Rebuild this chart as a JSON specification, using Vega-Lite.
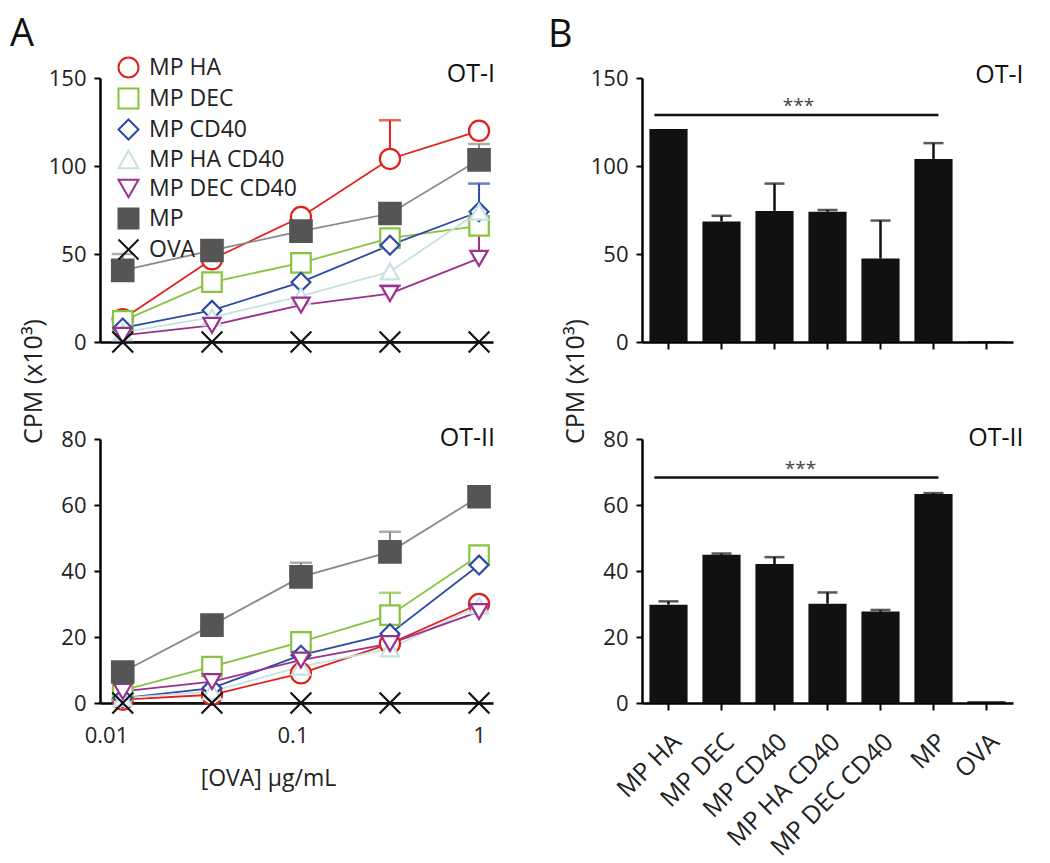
{
  "$schema": "https://vega.github.io/schema/vega-lite/v6.json",
  "padding": {"left": 10, "top": 16, "right": 5, "bottom": 5},
  "background": "white",
  "config": {
    "font": "Open Sans",
    "view": {"stroke": null},
    "axis": {"grid": false, "domainColor": "#000", "domainWidth": 2.5, "tickColor": "#000", "tickWidth": 2, "tickSize": 6, "labelFontSize": 22, "labelColor": "#222", "labelPadding": 8, "titleFontSize": 25, "titleFontWeight": "normal", "titleColor": "#222"},
    "legend": {"labelFontSize": 23, "labelColor": "#222", "symbolStrokeWidth": 2, "symbolSize": 400, "rowPadding": 2, "labelOffset": 9, "padding": 0},
    "title": {"fontSize": 38, "fontWeight": "normal", "color": "#111", "anchor": "start", "frame": "group", "baseline": "alphabetic"}
  },
  "datasets": {
    "lines": [
      {"panel": "OT-I", "series": "MP HA", "conc": 0.0123, "cpm": 13},
      {"panel": "OT-I", "series": "MP HA", "conc": 0.037, "cpm": 47},
      {"panel": "OT-I", "series": "MP HA", "conc": 0.111, "cpm": 71},
      {"panel": "OT-I", "series": "MP HA", "conc": 0.333, "cpm": 104, "upper": 126},
      {"panel": "OT-I", "series": "MP HA", "conc": 1, "cpm": 120},
      {"panel": "OT-I", "series": "MP DEC", "conc": 0.0123, "cpm": 12},
      {"panel": "OT-I", "series": "MP DEC", "conc": 0.037, "cpm": 34},
      {"panel": "OT-I", "series": "MP DEC", "conc": 0.111, "cpm": 45},
      {"panel": "OT-I", "series": "MP DEC", "conc": 0.333, "cpm": 59},
      {"panel": "OT-I", "series": "MP DEC", "conc": 1, "cpm": 66},
      {"panel": "OT-I", "series": "MP CD40", "conc": 0.0123, "cpm": 8},
      {"panel": "OT-I", "series": "MP CD40", "conc": 0.037, "cpm": 18},
      {"panel": "OT-I", "series": "MP CD40", "conc": 0.111, "cpm": 34},
      {"panel": "OT-I", "series": "MP CD40", "conc": 0.333, "cpm": 55},
      {"panel": "OT-I", "series": "MP CD40", "conc": 1, "cpm": 74, "upper": 90},
      {"panel": "OT-I", "series": "MP HA CD40", "conc": 0.0123, "cpm": 5.5},
      {"panel": "OT-I", "series": "MP HA CD40", "conc": 0.037, "cpm": 14},
      {"panel": "OT-I", "series": "MP HA CD40", "conc": 0.111, "cpm": 26},
      {"panel": "OT-I", "series": "MP HA CD40", "conc": 0.333, "cpm": 40},
      {"panel": "OT-I", "series": "MP HA CD40", "conc": 1, "cpm": 74},
      {"panel": "OT-I", "series": "MP DEC CD40", "conc": 0.0123, "cpm": 3.8},
      {"panel": "OT-I", "series": "MP DEC CD40", "conc": 0.037, "cpm": 9.5},
      {"panel": "OT-I", "series": "MP DEC CD40", "conc": 0.111, "cpm": 21},
      {"panel": "OT-I", "series": "MP DEC CD40", "conc": 0.333, "cpm": 27.5, "upper": 32},
      {"panel": "OT-I", "series": "MP DEC CD40", "conc": 1, "cpm": 47.5, "upper": 69},
      {"panel": "OT-I", "series": "MP", "conc": 0.0123, "cpm": 40.7, "upper": 50},
      {"panel": "OT-I", "series": "MP", "conc": 0.037, "cpm": 52},
      {"panel": "OT-I", "series": "MP", "conc": 0.111, "cpm": 63},
      {"panel": "OT-I", "series": "MP", "conc": 0.333, "cpm": 73},
      {"panel": "OT-I", "series": "MP", "conc": 1, "cpm": 103.5, "upper": 112.5},
      {"panel": "OT-I", "series": "OVA", "conc": 0.0123, "cpm": 0},
      {"panel": "OT-I", "series": "OVA", "conc": 0.037, "cpm": 0},
      {"panel": "OT-I", "series": "OVA", "conc": 0.111, "cpm": 0},
      {"panel": "OT-I", "series": "OVA", "conc": 0.333, "cpm": 0},
      {"panel": "OT-I", "series": "OVA", "conc": 1, "cpm": 0},
      {"panel": "OT-II", "series": "MP HA", "conc": 0.0123, "cpm": 1},
      {"panel": "OT-II", "series": "MP HA", "conc": 0.037, "cpm": 2.5},
      {"panel": "OT-II", "series": "MP HA", "conc": 0.111, "cpm": 9},
      {"panel": "OT-II", "series": "MP HA", "conc": 0.333, "cpm": 18},
      {"panel": "OT-II", "series": "MP HA", "conc": 1, "cpm": 30},
      {"panel": "OT-II", "series": "MP DEC", "conc": 0.0123, "cpm": 3.8},
      {"panel": "OT-II", "series": "MP DEC", "conc": 0.037, "cpm": 11},
      {"panel": "OT-II", "series": "MP DEC", "conc": 0.111, "cpm": 18.5},
      {"panel": "OT-II", "series": "MP DEC", "conc": 0.333, "cpm": 26.6, "upper": 33.4},
      {"panel": "OT-II", "series": "MP DEC", "conc": 1, "cpm": 44.8},
      {"panel": "OT-II", "series": "MP CD40", "conc": 0.0123, "cpm": 1.5},
      {"panel": "OT-II", "series": "MP CD40", "conc": 0.037, "cpm": 4.5},
      {"panel": "OT-II", "series": "MP CD40", "conc": 0.111, "cpm": 14.5},
      {"panel": "OT-II", "series": "MP CD40", "conc": 0.333, "cpm": 21},
      {"panel": "OT-II", "series": "MP CD40", "conc": 1, "cpm": 41.8},
      {"panel": "OT-II", "series": "MP HA CD40", "conc": 0.0123, "cpm": 1.5},
      {"panel": "OT-II", "series": "MP HA CD40", "conc": 0.037, "cpm": 3.5},
      {"panel": "OT-II", "series": "MP HA CD40", "conc": 0.111, "cpm": 11},
      {"panel": "OT-II", "series": "MP HA CD40", "conc": 0.333, "cpm": 16.5},
      {"panel": "OT-II", "series": "MP HA CD40", "conc": 1, "cpm": 29.5},
      {"panel": "OT-II", "series": "MP DEC CD40", "conc": 0.0123, "cpm": 3.5},
      {"panel": "OT-II", "series": "MP DEC CD40", "conc": 0.037, "cpm": 6.5},
      {"panel": "OT-II", "series": "MP DEC CD40", "conc": 0.111, "cpm": 13},
      {"panel": "OT-II", "series": "MP DEC CD40", "conc": 0.333, "cpm": 18},
      {"panel": "OT-II", "series": "MP DEC CD40", "conc": 1, "cpm": 27.7},
      {"panel": "OT-II", "series": "MP", "conc": 0.0123, "cpm": 9.4},
      {"panel": "OT-II", "series": "MP", "conc": 0.037, "cpm": 23.6},
      {"panel": "OT-II", "series": "MP", "conc": 0.111, "cpm": 38.2, "upper": 42.5},
      {"panel": "OT-II", "series": "MP", "conc": 0.333, "cpm": 45.8, "upper": 51.9},
      {"panel": "OT-II", "series": "MP", "conc": 1, "cpm": 62.5},
      {"panel": "OT-II", "series": "OVA", "conc": 0.0123, "cpm": 0},
      {"panel": "OT-II", "series": "OVA", "conc": 0.037, "cpm": 0},
      {"panel": "OT-II", "series": "OVA", "conc": 0.111, "cpm": 0},
      {"panel": "OT-II", "series": "OVA", "conc": 0.333, "cpm": 0},
      {"panel": "OT-II", "series": "OVA", "conc": 1, "cpm": 0}
    ],
    "bars": [
      {"panel": "OT-I", "group": "MP HA", "cpm": 121},
      {"panel": "OT-I", "group": "MP DEC", "cpm": 68.5, "upper": 71.7},
      {"panel": "OT-I", "group": "MP CD40", "cpm": 74.5, "upper": 90},
      {"panel": "OT-I", "group": "MP HA CD40", "cpm": 74, "upper": 75},
      {"panel": "OT-I", "group": "MP DEC CD40", "cpm": 47.4, "upper": 69},
      {"panel": "OT-I", "group": "MP", "cpm": 104, "upper": 113},
      {"panel": "OT-I", "group": "OVA", "cpm": 0.4},
      {"panel": "OT-II", "group": "MP HA", "cpm": 29.8, "upper": 30.8},
      {"panel": "OT-II", "group": "MP DEC", "cpm": 44.9, "upper": 45.3},
      {"panel": "OT-II", "group": "MP CD40", "cpm": 42.1, "upper": 44.2},
      {"panel": "OT-II", "group": "MP HA CD40", "cpm": 30.1, "upper": 33.5},
      {"panel": "OT-II", "group": "MP DEC CD40", "cpm": 27.7, "upper": 28.2},
      {"panel": "OT-II", "group": "MP", "cpm": 63.3, "upper": 63.6},
      {"panel": "OT-II", "group": "OVA", "cpm": 0.5}
    ],
    "sig": [
      {"panel": "OT-I", "from": "MP HA", "to": "MP", "y": 129, "label": "***"},
      {"panel": "OT-II", "from": "MP HA", "to": "MP", "y": 68.3, "label": "***"}
    ],
    "tags": [
      {"panel": "OT-I", "label": "OT-I"},
      {"panel": "OT-II", "label": "OT-II"}
    ]
  },
  "columns": 2,
  "bounds": "flush",
  "spacing": {"row": 97, "column": 149},
  "concat": [
    {
      "width": 393, "height": 264,
      "title": {"text": "A", "dx": -90, "offset": 8},
      "layer": [
        {
          "data": {"name": "lines"},
          "transform": [{"filter": "datum.panel === 'OT-I'"}],
          "mark": {"type": "line", "strokeWidth": 1.8},
          "encoding": {
            "x": {"field": "conc", "type": "quantitative", "scale": {"type": "log", "domain": [0.00929, 1.188], "nice": false}, "axis": {"title": null, "labels": false, "ticks": false}},
            "y": {"field": "cpm", "type": "quantitative", "scale": {"domain": [0, 150], "nice": false}, "axis": {"values": [0, 50, 100, 150], "title": "CPM (x10³)", "titleX": -59, "titleY": 303, "titleAngle": 270, "titleBaseline": "alphabetic", "titleAlign": "center"}},
            "color": {"field": "series", "type": "nominal", "scale": {"domain": ["OVA", "MP", "MP DEC CD40", "MP HA CD40", "MP CD40", "MP DEC", "MP HA"], "range": ["#111111", "#8a8a8a", "#9b308f", "#c6e2e3", "#2c4aa6", "#86c440", "#e3211c"]}, "legend": null}
          }
        },
        {
          "data": {"name": "lines"},
          "transform": [{"filter": "datum.panel === 'OT-I' && isValid(datum.upper)"}],
          "mark": {"type": "rule", "strokeWidth": 2},
          "encoding": {
            "x": {"field": "conc", "type": "quantitative", "scale": {"type": "log", "domain": [0.00929, 1.188], "nice": false}},
            "y": {"field": "cpm", "type": "quantitative", "scale": {"domain": [0, 150], "nice": false}},
            "y2": {"field": "upper"},
            "color": {"field": "series", "type": "nominal", "scale": {"domain": ["OVA", "MP", "MP DEC CD40", "MP HA CD40", "MP CD40", "MP DEC", "MP HA"], "range": ["#111111", "#8a8a8a", "#9b308f", "#c6e2e3", "#2c4aa6", "#86c440", "#e3211c"]}, "legend": null}
          }
        },
        {
          "data": {"name": "lines"},
          "transform": [{"filter": "datum.panel === 'OT-I' && isValid(datum.upper)"}],
          "mark": {"type": "tick", "orient": "horizontal", "size": 22, "thickness": 2.5},
          "encoding": {
            "x": {"field": "conc", "type": "quantitative", "scale": {"type": "log", "domain": [0.00929, 1.188], "nice": false}},
            "y": {"field": "upper", "type": "quantitative", "scale": {"domain": [0, 150], "nice": false}},
            "color": {"field": "series", "type": "nominal", "scale": {"domain": ["OVA", "MP", "MP DEC CD40", "MP HA CD40", "MP CD40", "MP DEC", "MP HA"], "range": ["#111111", "#8a8a8a", "#9b308f", "#c6e2e3", "#2c4aa6", "#86c440", "#e3211c"]}, "legend": null}
          }
        },
        {
          "data": {"name": "lines"},
          "transform": [{"filter": "datum.panel === 'OT-I'"}],
          "mark": {"type": "point", "strokeWidth": 2.2, "opacity": 1},
          "encoding": {
            "x": {"field": "conc", "type": "quantitative", "scale": {"type": "log", "domain": [0.00929, 1.188], "nice": false}},
            "y": {"field": "cpm", "type": "quantitative", "scale": {"domain": [0, 150], "nice": false}},
            "shape": {"field": "series", "type": "nominal", "scale": {"domain": ["MP HA", "MP DEC", "MP CD40", "MP HA CD40", "MP DEC CD40", "MP", "OVA"], "range": ["circle", "square", "diamond", "triangle-up", "triangle-down", "square", "M-1,-1L1,1M1,-1L-1,1"]}, "legend": {"orient": "none", "legendX": 17, "legendY": -22, "title": null}},
            "stroke": {"field": "series", "type": "nominal", "scale": {"domain": ["MP HA", "MP DEC", "MP CD40", "MP HA CD40", "MP DEC CD40", "MP", "OVA"], "range": ["#e3211c", "#86c440", "#2c4aa6", "#c6e2e3", "#9b308f", "#555555", "#111111"]}, "legend": {"orient": "none", "legendX": 17, "legendY": -22, "title": null}},
            "fill": {"field": "series", "type": "nominal", "scale": {"domain": ["MP HA", "MP DEC", "MP CD40", "MP HA CD40", "MP DEC CD40", "MP", "OVA"], "range": ["#ffffff", "#ffffff", "#ffffff", "#ffffff", "#ffffff", "#555555", "transparent"]}, "legend": {"orient": "none", "legendX": 17, "legendY": -22, "title": null}},
            "size": {"field": "series", "type": "nominal", "scale": {"domain": ["MP", "OVA", "MP HA", "MP DEC", "MP CD40", "MP HA CD40", "MP DEC CD40"], "range": [460, 300, 480, 460, 700, 520, 520]}, "legend": null}
          }
        },
        {
          "data": {"name": "tags"},
          "transform": [{"filter": "datum.panel === 'OT-I'"}],
          "mark": {"type": "text", "align": "right", "baseline": "middle", "fontSize": 25, "dx": 16, "dy": -4, "color": "#111"},
          "encoding": {
            "x": {"datum": 1, "type": "quantitative", "scale": {"type": "log", "domain": [0.00929, 1.188], "nice": false}},
            "y": {"datum": 150, "type": "quantitative", "scale": {"domain": [0, 150], "nice": false}},
            "text": {"field": "label"}
          }
        }
      ]
    },
    {
      "width": 371, "height": 264,
      "title": {"text": "B", "dx": -94, "offset": 8},
      "layer": [
        {
          "data": {"name": "bars"},
          "transform": [{"filter": "datum.panel === 'OT-I'"}],
          "mark": {"type": "bar", "color": "#111"},
          "encoding": {
            "x": {"field": "group", "type": "nominal", "scale": {"domain": ["MP HA", "MP DEC", "MP CD40", "MP HA CD40", "MP DEC CD40", "MP", "OVA"], "paddingInner": 0.28, "paddingOuter": 0.14}, "axis": {"title": null, "labels": false, "tickSize": 7}},
            "y": {"field": "cpm", "type": "quantitative", "scale": {"domain": [0, 150], "nice": false}, "axis": {"values": [0, 50, 100, 150], "title": "CPM (x10³)", "titleX": -59, "titleY": 303, "titleAngle": 270, "titleBaseline": "alphabetic", "titleAlign": "center"}}
          }
        },
        {
          "data": {"name": "bars"},
          "transform": [{"filter": "datum.panel === 'OT-I' && isValid(datum.upper)"}],
          "mark": {"type": "rule", "strokeWidth": 2.5, "color": "#111"},
          "encoding": {
            "x": {"field": "group", "type": "nominal", "scale": {"domain": ["MP HA", "MP DEC", "MP CD40", "MP HA CD40", "MP DEC CD40", "MP", "OVA"], "paddingInner": 0.28, "paddingOuter": 0.14}},
            "y": {"field": "cpm", "type": "quantitative", "scale": {"domain": [0, 150], "nice": false}},
            "y2": {"field": "upper"}
          }
        },
        {
          "data": {"name": "bars"},
          "transform": [{"filter": "datum.panel === 'OT-I' && isValid(datum.upper)"}],
          "mark": {"type": "tick", "orient": "horizontal", "size": 20, "thickness": 2.5, "color": "#111"},
          "encoding": {
            "x": {"field": "group", "type": "nominal", "scale": {"domain": ["MP HA", "MP DEC", "MP CD40", "MP HA CD40", "MP DEC CD40", "MP", "OVA"], "paddingInner": 0.28, "paddingOuter": 0.14}},
            "y": {"field": "upper", "type": "quantitative", "scale": {"domain": [0, 150], "nice": false}}
          }
        },
        {
          "data": {"name": "sig"},
          "transform": [{"filter": "datum.panel === 'OT-I'"}],
          "mark": {"type": "rule", "strokeWidth": 2.5, "color": "#111"},
          "encoding": {
            "x": {"field": "from", "type": "nominal", "bandPosition": 0.13, "scale": {"domain": ["MP HA", "MP DEC", "MP CD40", "MP HA CD40", "MP DEC CD40", "MP", "OVA"], "paddingInner": 0.28, "paddingOuter": 0.14}},
            "x2": {"field": "to", "bandPosition": 0.63},
            "y": {"field": "y", "type": "quantitative", "scale": {"domain": [0, 150], "nice": false}}
          }
        },
        {
          "data": {"name": "sig"},
          "transform": [{"filter": "datum.panel === 'OT-I'"}],
          "mark": {"type": "text", "fontSize": 19, "color": "#444", "baseline": "alphabetic", "align": "center", "dx": 24, "dy": -2.5},
          "encoding": {
            "x": {"datum": "MP CD40", "type": "nominal", "scale": {"domain": ["MP HA", "MP DEC", "MP CD40", "MP HA CD40", "MP DEC CD40", "MP", "OVA"], "paddingInner": 0.28, "paddingOuter": 0.14}},
            "y": {"field": "y", "type": "quantitative", "scale": {"domain": [0, 150], "nice": false}},
            "text": {"field": "label"}
          }
        },
        {
          "data": {"name": "tags"},
          "transform": [{"filter": "datum.panel === 'OT-I'"}],
          "mark": {"type": "text", "align": "right", "baseline": "middle", "fontSize": 25, "dx": 37, "dy": -3, "color": "#111"},
          "encoding": {
            "x": {"datum": "OVA", "type": "nominal", "scale": {"domain": ["MP HA", "MP DEC", "MP CD40", "MP HA CD40", "MP DEC CD40", "MP", "OVA"], "paddingInner": 0.28, "paddingOuter": 0.14}},
            "y": {"datum": 150, "type": "quantitative", "scale": {"domain": [0, 150], "nice": false}},
            "text": {"field": "label"}
          }
        }
      ]
    },
    {
      "width": 393, "height": 264,
      "layer": [
        {
          "data": {"name": "lines"},
          "transform": [{"filter": "datum.panel === 'OT-II'"}],
          "mark": {"type": "line", "strokeWidth": 1.8},
          "encoding": {
            "x": {"field": "conc", "type": "quantitative", "scale": {"type": "log", "domain": [0.00929, 1.188], "nice": false}, "axis": {"values": [0.01, 0.1, 1], "format": "~g", "ticks": false, "labelPadding": 22, "title": "[OVA] µg/mL", "titleFontSize": 23, "titleX": 168, "titleY": 82, "titleBaseline": "alphabetic"}},
            "y": {"field": "cpm", "type": "quantitative", "scale": {"domain": [0, 80], "nice": false}, "axis": {"values": [0, 20, 40, 60, 80], "title": null}},
            "color": {"field": "series", "type": "nominal", "scale": {"domain": ["OVA", "MP", "MP DEC CD40", "MP HA CD40", "MP CD40", "MP DEC", "MP HA"], "range": ["#111111", "#8a8a8a", "#9b308f", "#c6e2e3", "#2c4aa6", "#86c440", "#e3211c"]}, "legend": null}
          }
        },
        {
          "data": {"name": "lines"},
          "transform": [{"filter": "datum.panel === 'OT-II' && isValid(datum.upper)"}],
          "mark": {"type": "rule", "strokeWidth": 2},
          "encoding": {
            "x": {"field": "conc", "type": "quantitative", "scale": {"type": "log", "domain": [0.00929, 1.188], "nice": false}},
            "y": {"field": "cpm", "type": "quantitative", "scale": {"domain": [0, 80], "nice": false}},
            "y2": {"field": "upper"},
            "color": {"field": "series", "type": "nominal", "scale": {"domain": ["OVA", "MP", "MP DEC CD40", "MP HA CD40", "MP CD40", "MP DEC", "MP HA"], "range": ["#111111", "#8a8a8a", "#9b308f", "#c6e2e3", "#2c4aa6", "#86c440", "#e3211c"]}, "legend": null}
          }
        },
        {
          "data": {"name": "lines"},
          "transform": [{"filter": "datum.panel === 'OT-II' && isValid(datum.upper)"}],
          "mark": {"type": "tick", "orient": "horizontal", "size": 22, "thickness": 2.5},
          "encoding": {
            "x": {"field": "conc", "type": "quantitative", "scale": {"type": "log", "domain": [0.00929, 1.188], "nice": false}},
            "y": {"field": "upper", "type": "quantitative", "scale": {"domain": [0, 80], "nice": false}},
            "color": {"field": "series", "type": "nominal", "scale": {"domain": ["OVA", "MP", "MP DEC CD40", "MP HA CD40", "MP CD40", "MP DEC", "MP HA"], "range": ["#111111", "#8a8a8a", "#9b308f", "#c6e2e3", "#2c4aa6", "#86c440", "#e3211c"]}, "legend": null}
          }
        },
        {
          "data": {"name": "lines"},
          "transform": [{"filter": "datum.panel === 'OT-II'"}],
          "mark": {"type": "point", "strokeWidth": 2.2, "opacity": 1},
          "encoding": {
            "x": {"field": "conc", "type": "quantitative", "scale": {"type": "log", "domain": [0.00929, 1.188], "nice": false}},
            "y": {"field": "cpm", "type": "quantitative", "scale": {"domain": [0, 80], "nice": false}},
            "shape": {"field": "series", "type": "nominal", "scale": {"domain": ["MP HA", "MP DEC", "MP CD40", "MP HA CD40", "MP DEC CD40", "MP", "OVA"], "range": ["circle", "square", "diamond", "triangle-up", "triangle-down", "square", "M-1,-1L1,1M1,-1L-1,1"]}, "legend": null},
            "stroke": {"field": "series", "type": "nominal", "scale": {"domain": ["MP HA", "MP DEC", "MP CD40", "MP HA CD40", "MP DEC CD40", "MP", "OVA"], "range": ["#e3211c", "#86c440", "#2c4aa6", "#c6e2e3", "#9b308f", "#555555", "#111111"]}, "legend": null},
            "fill": {"field": "series", "type": "nominal", "scale": {"domain": ["MP HA", "MP DEC", "MP CD40", "MP HA CD40", "MP DEC CD40", "MP", "OVA"], "range": ["#ffffff", "#ffffff", "#ffffff", "#ffffff", "#ffffff", "#555555", "transparent"]}, "legend": null},
            "size": {"field": "series", "type": "nominal", "scale": {"domain": ["MP", "OVA", "MP HA", "MP DEC", "MP CD40", "MP HA CD40", "MP DEC CD40"], "range": [460, 300, 480, 460, 700, 520, 520]}, "legend": null}
          }
        },
        {
          "data": {"name": "tags"},
          "transform": [{"filter": "datum.panel === 'OT-II'"}],
          "mark": {"type": "text", "align": "right", "baseline": "middle", "fontSize": 25, "dx": 16, "dy": -1, "color": "#111"},
          "encoding": {
            "x": {"datum": 1, "type": "quantitative", "scale": {"type": "log", "domain": [0.00929, 1.188], "nice": false}},
            "y": {"datum": 80, "type": "quantitative", "scale": {"domain": [0, 80], "nice": false}},
            "text": {"field": "label"}
          }
        }
      ]
    },
    {
      "width": 371, "height": 264,
      "layer": [
        {
          "data": {"name": "bars"},
          "transform": [{"filter": "datum.panel === 'OT-II'"}],
          "mark": {"type": "bar", "color": "#111"},
          "encoding": {
            "x": {"field": "group", "type": "nominal", "scale": {"domain": ["MP HA", "MP DEC", "MP CD40", "MP HA CD40", "MP DEC CD40", "MP", "OVA"], "paddingInner": 0.28, "paddingOuter": 0.14}, "axis": {"title": null, "tickSize": 7, "labelAngle": -45, "labelFontSize": 25, "labelPadding": 19}},
            "y": {"field": "cpm", "type": "quantitative", "scale": {"domain": [0, 80], "nice": false}, "axis": {"values": [0, 20, 40, 60, 80], "title": null}}
          }
        },
        {
          "data": {"name": "bars"},
          "transform": [{"filter": "datum.panel === 'OT-II' && isValid(datum.upper)"}],
          "mark": {"type": "rule", "strokeWidth": 2.5, "color": "#111"},
          "encoding": {
            "x": {"field": "group", "type": "nominal", "scale": {"domain": ["MP HA", "MP DEC", "MP CD40", "MP HA CD40", "MP DEC CD40", "MP", "OVA"], "paddingInner": 0.28, "paddingOuter": 0.14}},
            "y": {"field": "cpm", "type": "quantitative", "scale": {"domain": [0, 80], "nice": false}},
            "y2": {"field": "upper"}
          }
        },
        {
          "data": {"name": "bars"},
          "transform": [{"filter": "datum.panel === 'OT-II' && isValid(datum.upper)"}],
          "mark": {"type": "tick", "orient": "horizontal", "size": 20, "thickness": 2.5, "color": "#111"},
          "encoding": {
            "x": {"field": "group", "type": "nominal", "scale": {"domain": ["MP HA", "MP DEC", "MP CD40", "MP HA CD40", "MP DEC CD40", "MP", "OVA"], "paddingInner": 0.28, "paddingOuter": 0.14}},
            "y": {"field": "upper", "type": "quantitative", "scale": {"domain": [0, 80], "nice": false}}
          }
        },
        {
          "data": {"name": "sig"},
          "transform": [{"filter": "datum.panel === 'OT-II'"}],
          "mark": {"type": "rule", "strokeWidth": 2.5, "color": "#111"},
          "encoding": {
            "x": {"field": "from", "type": "nominal", "bandPosition": 0.13, "scale": {"domain": ["MP HA", "MP DEC", "MP CD40", "MP HA CD40", "MP DEC CD40", "MP", "OVA"], "paddingInner": 0.28, "paddingOuter": 0.14}},
            "x2": {"field": "to", "bandPosition": 0.63},
            "y": {"field": "y", "type": "quantitative", "scale": {"domain": [0, 80], "nice": false}}
          }
        },
        {
          "data": {"name": "sig"},
          "transform": [{"filter": "datum.panel === 'OT-II'"}],
          "mark": {"type": "text", "fontSize": 19, "color": "#444", "baseline": "alphabetic", "align": "center", "dx": 26, "dy": -2.5},
          "encoding": {
            "x": {"datum": "MP CD40", "type": "nominal", "scale": {"domain": ["MP HA", "MP DEC", "MP CD40", "MP HA CD40", "MP DEC CD40", "MP", "OVA"], "paddingInner": 0.28, "paddingOuter": 0.14}},
            "y": {"field": "y", "type": "quantitative", "scale": {"domain": [0, 80], "nice": false}},
            "text": {"field": "label"}
          }
        },
        {
          "data": {"name": "tags"},
          "transform": [{"filter": "datum.panel === 'OT-II'"}],
          "mark": {"type": "text", "align": "right", "baseline": "middle", "fontSize": 25, "dx": 37, "dy": -1, "color": "#111"},
          "encoding": {
            "x": {"datum": "OVA", "type": "nominal", "scale": {"domain": ["MP HA", "MP DEC", "MP CD40", "MP HA CD40", "MP DEC CD40", "MP", "OVA"], "paddingInner": 0.28, "paddingOuter": 0.14}},
            "y": {"datum": 80, "type": "quantitative", "scale": {"domain": [0, 80], "nice": false}},
            "text": {"field": "label"}
          }
        }
      ]
    }
  ]
}
